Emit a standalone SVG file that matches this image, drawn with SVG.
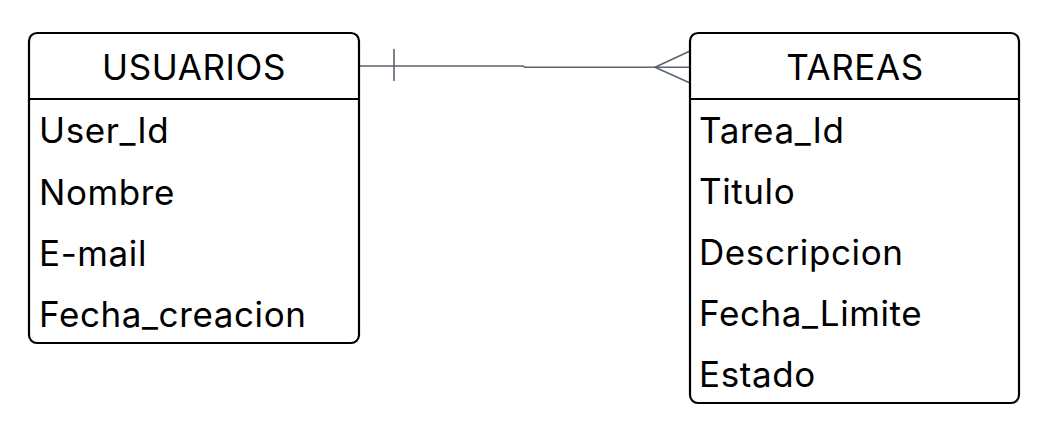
<svg xmlns="http://www.w3.org/2000/svg" width="1057" height="423" viewBox="0 0 1057 423">
<style>
.box{fill:#fff;stroke:#000;stroke-width:2.2}
.div{stroke:#000;stroke-width:2.2}
.t{font-family:Inter,"Liberation Sans",sans-serif;font-size:35px;letter-spacing:0.6px;fill:#000}
.h{text-anchor:middle}
.c{fill:none;stroke:#5b6270;stroke-width:1.6}
</style>
<rect width="1057" height="423" fill="#fff"/>
<g id="connectors">
<path class="c" d="M359,66 H523 L525,67.3 H690"/>
<path class="c" d="M394,49 V81"/>
<path class="c" d="M690,51 L655,67.3 L690,83"/>
</g>
<g id="usuarios">
<rect class="box" x="29" y="33" width="330" height="310" rx="8"/>
<line class="div" x1="29" y1="99" x2="359" y2="99"/>
<text class="t h" x="194" y="79.5">USUARIOS</text>
<text class="t" x="39" y="143">User_Id</text>
<text class="t" x="39" y="204.5">Nombre</text>
<text class="t" x="39" y="266">E-mail</text>
<text class="t" x="39" y="326.5">Fecha_creacion</text>
</g>
<g id="tareas">
<rect class="box" x="690" y="33" width="329" height="370" rx="8"/>
<line class="div" x1="690" y1="99" x2="1019" y2="99"/>
<text class="t h" x="855" y="79.5">TAREAS</text>
<text class="t" x="699" y="143">Tarea_Id</text>
<text class="t" x="699" y="204">Titulo</text>
<text class="t" x="699" y="265">Descripcion</text>
<text class="t" x="699" y="325.5">Fecha_Limite</text>
<text class="t" x="699" y="387">Estado</text>
</g>
</svg>
